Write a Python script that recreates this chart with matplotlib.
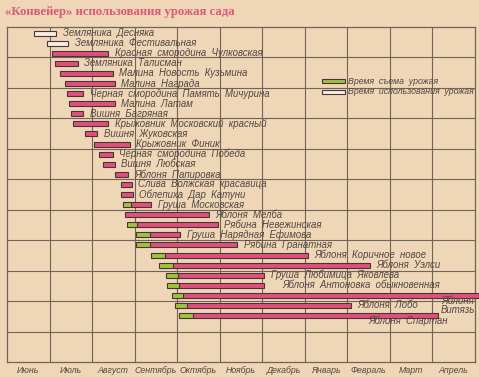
import numpy as np
import matplotlib
matplotlib.use('Agg')
import matplotlib.pyplot as plt
from matplotlib.patches import Rectangle

plt.rcParams['font.family'] = ['Liberation Sans', 'DejaVu Sans']

months = ['Июнь', 'Июль', 'Август', 'Сентябрь', 'Октябрь', 'Ноябрь',
          'Декабрь', 'Январь', 'Февраль', 'Март', 'Апрель']

names = [
    'Земляника  Десняка', 'Земляника  Фестивальная', 'Красная  смородина  Чулковская',
    'Земляника  Талисман', 'Малина  Новость  Кузьмина', 'Малина  Награда',
    'Черная  смородина  Память  Мичурина', 'Малина  Латам', 'Вишня  Багряная',
    'Крыжовник  Московский  красный', 'Вишня  Жуковская', 'Крыжовник  Финик',
    'Черная  смородина  Победа', 'Вишня  Любская', 'Яблоня  Папировка',
    'Слива  Волжская  красавица', 'Облепиха  Дар  Катуни', 'Груша  Московская',
    'Яблоня  Мелба', 'Рябина  Невежинская', 'Груша  Нарядная  Ефимова',
    'Рябина  Гранатная', 'Яблоня  Коричное  новое', 'Яблоня  Уэлси',
    'Груша  Любимица  Яковлева', 'Яблоня  Антоновка  обыкновенная',
    'Яблоня\nВитязь', 'Яблоня  Лобо', 'Яблоня  Спартан',
]

# months counted from 1 June
start = [0.63, 0.94, 1.06, 1.13, 1.25, 1.36, 1.41, 1.46, 1.51, 1.55,
         1.84, 2.05, 2.16, 2.26, 2.54, 2.68, 2.68, 2.73, 2.78, 2.82,
         3.04, 3.04, 3.39, 3.58, 3.74, 3.76, 3.88, 3.95, 4.05]
harvest_end = [None] * 17 + [2.92, None, 3.06, 3.36, 3.36, 3.72, 3.91,
                             4.02, 4.05, 4.14, 4.24, 4.38]
end = [1.16, 1.44, 2.38, 1.67, 2.49, 2.54, 1.79, 2.54, 1.79, 2.38,
       2.12, 2.89, 2.49, 2.54, 2.85, 2.94, 2.96, 3.39, 4.75, 4.96,
       4.07, 5.41, 7.08, 8.54, 6.05, 6.05, 11.1, 8.09, 10.12]
unfilled = [True, True] + [False] * 27

paper = '#efd6b6'
ink = '#524744'
grid_c = '#6f635a'
red = '#e0507c'
green = '#9cc43e'
edge = '#4a3438'

fig = plt.figure(figsize=(4.79, 3.77), dpi=100)
fig.patch.set_facecolor(paper)
ax = fig.add_axes([7 / 479, 15 / 377, 468 / 479, 335 / 377])
ax.set_facecolor(paper)
ax.set_xlim(0, 11)
ax.set_ylim(32.6, -0.6)

# grid
for x in range(1, 11):
    ax.axvline(x, color=grid_c, lw=0.8, zorder=1)
for y in np.linspace(-0.6, 32.6, 12)[1:-1]:
    ax.axhline(y, color=grid_c, lw=0.8, zorder=1)
for s in ax.spines.values():
    s.set_color(grid_c)
    s.set_linewidth(0.9)

ax.set_yticks([])
ax.set_xticks(np.arange(11) + 0.5)
ax.set_xticklabels(months, fontsize=6.3, style='italic', color=ink)
ax.tick_params(axis='x', length=0, pad=3)

h = 0.5
for i, name in enumerate(names):
    if unfilled[i]:
        ax.barh(i, end[i] - start[i], left=start[i], height=h, color='#f6eee0',
                edgecolor=edge, lw=0.8, zorder=3, clip_on=False)
    elif harvest_end[i] is None:
        ax.barh(i, end[i] - start[i], left=start[i], height=h, color=red,
                edgecolor=edge, lw=0.8, zorder=3, clip_on=False)
    else:
        ax.barh(i, end[i] - harvest_end[i], left=harvest_end[i], height=h,
                color=red, edgecolor=edge, lw=0.8, zorder=3, clip_on=False)
        ax.barh(i, harvest_end[i] - start[i], left=start[i], height=h,
                color=green, edgecolor=edge, lw=0.8, zorder=3, clip_on=False)

    # label placement
    lx, ly = end[i] + 0.15, i
    if 'Антоновка' in name:
        lx = end[i] + 0.42
    if 'Витязь' in name:
        lx, ly = 10.2, i + 1.0
    if 'Спартан' in name:
        lx, ly = 8.5, i + 0.55
    ax.text(lx, ly, name, fontsize=6.9, style='italic', color=ink,
            ha='left', va='center', zorder=4, linespacing=0.95)

# legend
fig.patches.append(Rectangle((322 / 479, 1 - 83 / 377), 23 / 479, 4 / 377,
                             transform=fig.transFigure, facecolor=green,
                             edgecolor=edge, lw=0.8, zorder=5))
fig.patches.append(Rectangle((322 / 479, 1 - 94 / 377), 23 / 479, 4 / 377,
                             transform=fig.transFigure, facecolor='#f6eee0',
                             edgecolor=edge, lw=0.8, zorder=5))
fig.text(348 / 479, 1 - 81 / 377, 'Время  съема  урожая', fontsize=6.3,
         style='italic', color=ink, va='center')
fig.text(348 / 479, 1 - 92 / 377, 'Время  использования  урожая', fontsize=6.3,
         style='italic', color=ink, va='center')

fig.text(5 / 479, 1 - 12 / 377, '«Конвейер» использования урожая сада',
         fontsize=9.2, fontweight='bold', color='#d95a7a', va='center',
         family=['Liberation Serif', 'DejaVu Serif'])

fig.savefig('out.png', dpi=100, facecolor=paper)
